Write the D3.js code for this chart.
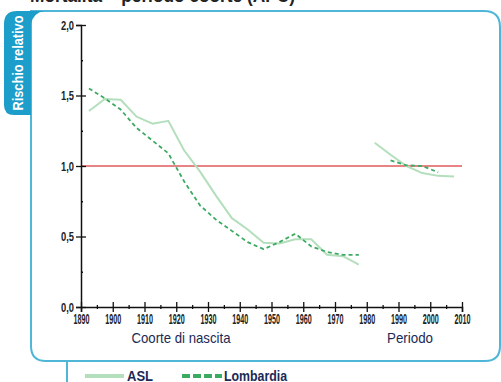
<!DOCTYPE html>
<html lang="it">
<head>
<meta charset="utf-8">
<title>Mortalità APC</title>
<script src="https://d3js.org/d3.v7.min.js"></script>
<style>
  body { margin: 0; background: #fff; }
  svg text { font-family: "Liberation Sans", Arial, sans-serif; }
</style>
</head>
<body>
<div id="chart"></div>
<script>
"use strict";

// dati
var anniCoorte = [1892.5, 1897.5, 1902.5, 1907.5, 1912.5, 1917.5, 1922.5, 1927.5, 1932.5,
                  1937.5, 1942.5, 1947.5, 1952.5, 1957.5, 1962.5, 1967.5, 1972.5, 1977.5];
var aslCoorte = [1.39, 1.475, 1.47, 1.35, 1.30, 1.32, 1.11, 0.96, 0.79,
                 0.63, 0.55, 0.455, 0.45, 0.48, 0.48, 0.37, 0.36, 0.30];
var lombCoorte = [1.55, 1.48, 1.40, 1.27, 1.18, 1.09, 0.89, 0.72, 0.62,
                  0.54, 0.46, 0.41, 0.46, 0.52, 0.43, 0.39, 0.37, 0.37];

var anniPeriodoAsl = [1982.5, 1987.5, 1992.5, 1997.5, 2002.5, 2007.5];
var aslPeriodo = [1.165, 1.08, 1.0, 0.95, 0.93, 0.925];
var anniPeriodoLomb = [1987.5, 1992.5, 1997.5, 2002.5];
var lombPeriodo = [1.04, 1.005, 1.0, 0.955];

var xTicks = [1890, 1900, 1910, 1920, 1930, 1940, 1950, 1960, 1970, 1980, 1990, 2000, 2010];
var yTicks = [0, 0.5, 1.0, 1.5, 2.0];

var W = 501, H = 382;
var svg = d3.select("#chart").append("svg").attr("width", W).attr("height", H);

// testo "stretto": comprime il testo alla larghezza voluta
function stretto(sel, larg) {
  sel.attr("textLength", larg).attr("lengthAdjust", "spacingAndGlyphs");
}

// titolo tagliato in alto
svg.append("text").attr("x", 30).attr("y", 2)
  .style("font-size", "18px").style("font-weight", "bold").attr("fill", "#222")
  .text("Mortalità – periodo coorte (APC)").call(stretto, 265);

// cornice
var blu = "#4fb6d8";
svg.append("path")
  .attr("d", "M31,11 L484,11 Q500,11 500,27 L500,346 Q500,361 485,361 L46,361 Q31,361 31,346 Z")
  .attr("fill", "none").attr("stroke", blu).attr("stroke-width", 2);
svg.append("path")
  .attr("d", "M4,24 Q4,11 17,11 L44,11 Q33,13 31,24 L31,115 L14,115 Q4,115 4,105 Z")
  .attr("fill", "#1d9dca");
svg.append("text")
  .attr("transform", "translate(23,63) rotate(-90)")
  .attr("text-anchor", "middle").attr("fill", "#fff")
  .style("font-size", "15px").style("font-weight", "bold")
  .text("Rischio relativo").call(stretto, 95);

// legenda
svg.append("line").attr("x1", 67).attr("x2", 67).attr("y1", 361).attr("y2", 382)
  .attr("stroke", blu).attr("stroke-width", 2);

var x = d3.scaleLinear().domain([1890, 2010]).range([81, 462]);
var y = d3.scaleLinear().domain([0, 2]).range([307, 25]);

var g = svg.append("g");

// linea di riferimento
g.append("line").attr("x1", x(1890)).attr("x2", x(2010)).attr("y1", y(1)).attr("y2", y(1))
  .attr("stroke", "#e05a5a").attr("stroke-width", 1.5);

// assi
var assey = g.append("g").attr("transform", "translate(" + x(1890) + ",0)")
  .call(d3.axisLeft(y).tickValues(yTicks).tickSize(5).tickFormat(function(d) { return d3.format(".1f")(d).replace(".", ","); }));
assey.selectAll(".tick line").attr("x2", 5).attr("x1", -5);
var yMinor = g.append("g").attr("transform", "translate(" + x(1890) + ",0)")
  .call(d3.axisLeft(y).tickValues([0.25, 0.75, 1.25, 1.75]).tickSize(2).tickFormat(""));
yMinor.selectAll(".tick line").attr("x2", 2);
yMinor.select(".domain").remove();

var assex = g.append("g").attr("transform", "translate(0," + y(0) + ")")
  .call(d3.axisBottom(x).tickValues(xTicks).tickSize(5).tickFormat(d3.format("d")));
assex.selectAll(".tick line").attr("y1", -5);
var xMinor = g.append("g").attr("transform", "translate(0," + y(0) + ")")
  .call(d3.axisBottom(x).tickValues(d3.range(1895, 2010, 10)).tickSize(2).tickFormat(""));
xMinor.selectAll(".tick line").attr("y1", -2);
xMinor.select(".domain").remove();

g.selectAll(".domain").attr("stroke", "#111").attr("stroke-width", 1.5);
g.selectAll(".tick line").attr("stroke", "#111").attr("stroke-width", 1.3);
assex.selectAll("text").attr("y", 6).attr("dy", "0.75em").style("font-size", "14px").style("font-weight", "bold")
  .attr("fill", "#222").call(stretto, 16);
assey.selectAll("text").attr("x", -7).style("font-size", "13px").style("font-weight", "bold")
  .attr("fill", "#222").call(stretto, 13);

// titoli assi
g.append("text").attr("x", 181).attr("y", 343).attr("text-anchor", "middle")
  .attr("fill", "#1a2a55").style("font-size", "15px").text("Coorte di nascita").call(stretto, 99);
g.append("text").attr("x", 410).attr("y", 343).attr("text-anchor", "middle")
  .attr("fill", "#1a2a55").style("font-size", "15px").text("Periodo").call(stretto, 46);

// serie
var linea = d3.line().x(function(d) { return x(d[0]); }).y(function(d) { return y(d[1]); });
var verdeChiaro = "#b4dfbc", verde = "#3daa62";

function serie(anni, valori, tratt) {
  var punti = d3.zip(anni, valori);
  var p = g.append("path").datum(punti).attr("d", linea).attr("fill", "none")
    .attr("stroke-linejoin", "round");
  if (tratt) p.attr("stroke", verde).attr("stroke-width", 1.8).attr("stroke-dasharray", "4,3");
  else p.attr("stroke", verdeChiaro).attr("stroke-width", 2);
}
serie(anniCoorte, aslCoorte, false);
serie(anniCoorte, lombCoorte, true);
serie(anniPeriodoAsl, aslPeriodo, false);
serie(anniPeriodoLomb, lombPeriodo, true);

// voci legenda
svg.append("line").attr("x1", 85).attr("x2", 124).attr("y1", 376).attr("y2", 376)
  .attr("stroke", verdeChiaro).attr("stroke-width", 4);
svg.append("text").attr("x", 127).attr("y", 381).style("font-size", "14px").style("font-weight", "bold")
  .attr("fill", "#1a2a55").text("ASL").call(stretto, 26);
svg.append("line").attr("x1", 182).attr("x2", 222).attr("y1", 376).attr("y2", 376)
  .attr("stroke", verde).attr("stroke-width", 4).attr("stroke-dasharray", "8,3");
svg.append("text").attr("x", 224).attr("y", 381).style("font-size", "14px").style("font-weight", "bold")
  .attr("fill", "#1a2a55").text("Lombardia").call(stretto, 63);
</script>
</body>
</html>
